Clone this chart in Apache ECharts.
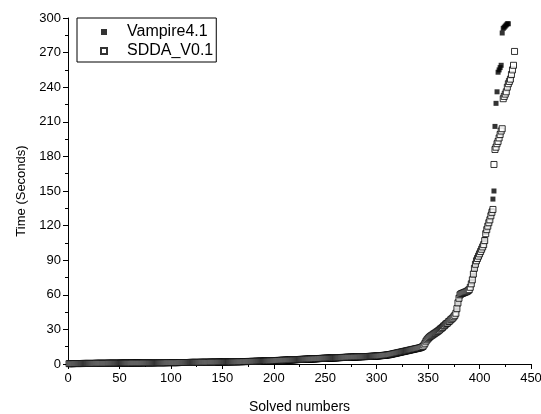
<!DOCTYPE html>
<html>
<head>
<meta charset="utf-8">
<script src="https://cdn.jsdelivr.net/npm/echarts@6/dist/echarts.min.js"></script>
<style>html,body{margin:0;padding:0;background:#fff;}#c{width:541px;height:414px;}</style>
</head>
<body>
<div id="c"></div>
<script>
// Sorted solving times (seconds); the solved number is the 1-based position in each list.
const vampireName = 'Vampire4.1';
const sddaName = 'SDDA_V0.1';
const vampireTimes = [
0.2,0.2,0.2,0.3,0.3,0.3,0.3,0.3,0.3,0.3,
0.3,0.3,0.3,0.4,0.4,0.4,0.4,0.4,0.4,0.4,
0.4,0.4,0.4,0.4,0.4,0.5,0.5,0.5,0.5,0.5,
0.5,0.5,0.5,0.5,0.5,0.5,0.5,0.5,0.5,0.5,
0.5,0.6,0.6,0.6,0.6,0.6,0.6,0.6,0.6,0.6,
0.6,0.6,0.6,0.6,0.7,0.7,0.7,0.7,0.7,0.7,
0.7,0.7,0.7,0.7,0.7,0.7,0.7,0.8,0.8,0.8,
0.8,0.8,0.8,0.8,0.8,0.8,0.8,0.8,0.8,0.8,
0.8,0.9,0.9,0.9,0.9,0.9,0.9,0.9,0.9,0.9,
0.9,0.9,0.9,1.0,1.0,1.0,1.0,1.0,1.0,1.0,
1.0,1.0,1.0,1.0,1.0,1.0,1.1,1.1,1.1,1.1,
1.1,1.1,1.1,1.1,1.1,1.1,1.1,1.1,1.2,1.2,
1.2,1.2,1.2,1.2,1.2,1.2,1.2,1.2,1.2,1.2,
1.3,1.3,1.3,1.3,1.3,1.3,1.3,1.3,1.3,1.3,
1.4,1.4,1.4,1.4,1.4,1.4,1.4,1.4,1.4,1.5,
1.5,1.5,1.5,1.5,1.5,1.5,1.5,1.6,1.6,1.6,
1.6,1.6,1.6,1.6,1.6,1.7,1.7,1.7,1.7,1.7,
1.7,1.7,1.8,1.8,1.8,1.8,1.8,1.8,1.9,1.9,
1.9,1.9,1.9,1.9,2.0,2.0,2.0,2.0,2.0,2.1,
2.1,2.1,2.1,2.1,2.2,2.2,2.2,2.2,2.3,2.3,
2.3,2.3,2.4,2.4,2.4,2.5,2.5,2.5,2.6,2.6,
2.6,2.7,2.7,2.7,2.8,2.8,2.8,2.9,2.9,3.0,
3.0,3.0,3.1,3.1,3.1,3.2,3.2,3.3,3.3,3.3,
3.4,3.4,3.4,3.5,3.5,3.6,3.6,3.6,3.7,3.7,
3.8,3.8,3.8,3.9,3.9,4.0,4.0,4.0,4.1,4.1,
4.2,4.2,4.3,4.3,4.3,4.4,4.4,4.5,4.5,4.6,
4.6,4.7,4.7,4.8,4.8,4.9,4.9,5.0,5.0,5.0,
5.1,5.1,5.2,5.2,5.2,5.3,5.3,5.4,5.4,5.4,
5.5,5.5,5.5,5.6,5.6,5.7,5.7,5.7,5.8,5.8,
5.9,5.9,6.0,6.0,6.0,6.1,6.1,6.2,6.2,6.3,
6.3,6.4,6.5,6.6,6.7,6.8,6.9,7.0,7.1,7.2,
7.3,7.4,7.6,7.8,8.0,8.2,8.4,8.6,8.8,9.0,
9.2,9.4,9.6,9.8,10.0,10.2,10.4,10.6,10.8,11.0,
11.2,11.4,11.6,11.8,12.0,12.2,12.4,12.6,12.8,13.0,
13.3,13.6,14.0,14.5,15.0,
17,19,20.5,21.5,22.5,23.2,24,24.6,25.2,25.8,26.4,27,27.6,28.2,28.8,29.5,
30,31.2,31.9,32.4,33.6,34.1,35.3,35.9,36.4,37.6,38.1,39.2,40.1,40.8,41.9,43.5,
47,52,56,59,
60,60.5,61,61.3,61.6,62,62.4,62.8,63.5,
66,69,72,77,82,86,89,91,93,95,
97,99,101,103,108,114,117,120,123,126,
130,133,143,150,
206,226,236,
253,255,257,259,
287,
291,292,293,294,295,295
];
const sddaTimes = [
0.3,0.3,0.3,0.3,0.3,0.4,0.4,0.4,0.4,0.4,
0.4,0.4,0.4,0.4,0.5,0.5,0.5,0.5,0.5,0.5,
0.5,0.5,0.5,0.5,0.5,0.5,0.6,0.6,0.6,0.6,
0.6,0.6,0.6,0.6,0.6,0.6,0.6,0.6,0.7,0.7,
0.7,0.7,0.7,0.7,0.7,0.7,0.7,0.7,0.7,0.7,
0.8,0.8,0.8,0.8,0.8,0.8,0.8,0.8,0.8,0.8,
0.8,0.9,0.9,0.9,0.9,0.9,0.9,0.9,0.9,0.9,
0.9,0.9,1.0,1.0,1.0,1.0,1.0,1.0,1.0,1.0,
1.0,1.0,1.0,1.0,1.1,1.1,1.1,1.1,1.1,1.1,
1.1,1.1,1.1,1.1,1.1,1.2,1.2,1.2,1.2,1.2,
1.2,1.2,1.2,1.2,1.2,1.2,1.2,1.3,1.3,1.3,
1.3,1.3,1.3,1.3,1.3,1.3,1.3,1.3,1.4,1.4,
1.4,1.4,1.4,1.4,1.4,1.4,1.4,1.4,1.5,1.5,
1.5,1.5,1.5,1.5,1.5,1.5,1.5,1.6,1.6,1.6,
1.6,1.6,1.6,1.6,1.6,1.7,1.7,1.7,1.7,1.7,
1.7,1.7,1.8,1.8,1.8,1.8,1.8,1.8,1.9,1.9,
1.9,1.9,1.9,1.9,2.0,2.0,2.0,2.0,2.0,2.1,
2.1,2.1,2.1,2.1,2.2,2.2,2.2,2.2,2.3,2.3,
2.3,2.3,2.4,2.4,2.4,2.5,2.5,2.5,2.5,2.6,
2.6,2.6,2.7,2.7,2.7,2.8,2.8,2.8,2.9,2.9,
2.9,3.0,3.0,3.1,3.1,3.1,3.2,3.2,3.3,3.3,
3.3,3.4,3.4,3.5,3.5,3.5,3.6,3.6,3.7,3.7,
3.7,3.8,3.8,3.9,3.9,4.0,4.0,4.0,4.1,4.1,
4.2,4.2,4.3,4.3,4.3,4.4,4.4,4.5,4.5,4.6,
4.6,4.6,4.7,4.7,4.8,4.8,4.9,4.9,5.0,5.0,
5.0,5.1,5.1,5.2,5.2,5.2,5.3,5.3,5.4,5.4,
5.4,5.5,5.5,5.5,5.6,5.6,5.7,5.7,5.7,5.8,
5.8,5.9,5.9,5.9,6.0,6.0,6.0,6.1,6.1,6.1,
6.2,6.2,6.2,6.3,6.3,6.3,6.4,6.4,6.4,6.5,
6.5,6.5,6.6,6.6,6.7,6.7,6.8,6.8,6.9,6.9,
7.0,7.0,7.1,7.2,7.3,7.4,7.5,7.6,7.7,7.8,
7.9,8.0,8.2,8.4,8.6,8.8,9.0,9.2,9.4,9.6,
9.8,10.0,10.2,10.4,10.6,10.8,11.0,11.2,11.4,11.6,
11.8,12.0,12.2,12.4,12.6,12.8,13.0,13.2,13.4,13.6,
13.8,14.0,14.3,14.7,15.2,
16.5,18,19.8,21,22,23,23.8,24.5,25,25.7,26.3,26.9,27.5,28.1,28.8,29.5,
30.4,31,31.7,32.8,33.3,34.4,35.1,35.6,36.8,37.3,38.4,39.1,39.9,41,42.2,44,
48,53,57,60,
60.8,61.2,61.5,61.9,62.3,62.6,63,63.8,64.5,
66.5,69.5,73,78,83,86.5,89.5,91.5,93.5,95.5,
97.5,99.5,101.5,103.5,107,113,116.5,119.5,122.5,125,
128.5,131.5,134,
173,186,188,191,193,196,199,202,204,
230,232,234,236,240,243,245,247,251,255,259,271
];
const xTicks = { min: 0, max: 450, interval: 50 };
const yTicks = { min: 0, max: 300, interval: 30 };

const toPoints = arr => arr.map((t, i) => [i + 1, t]);

const font = 'Arial, "Liberation Sans", sans-serif';
const chart = echarts.init(document.getElementById('c'), null, { renderer: 'canvas' });
chart.setOption({
  animation: false,
  backgroundColor: '#fff',
  grid: { left: 68, right: 10, top: 18, bottom: 50, containLabel: false, outerBoundsMode: 'none' },
  legend: {
    left: 77, top: 18, orient: 'vertical',
    borderColor: '#000', borderWidth: 1, borderRadius: 0,
    padding: [5, 3, 2, 23], itemGap: 1,
    itemWidth: 6, itemHeight: 6,
    textStyle: { fontFamily: font, fontSize: 16, color: '#000', padding: [0, 0, 0, 15], lineHeight: 18 },
    data: [vampireName, sddaName]
  },
  xAxis: {
    type: 'value', min: xTicks.min, max: xTicks.max, interval: xTicks.interval,
    name: 'Solved numbers', nameLocation: 'middle', nameGap: 36,
    nameTextStyle: { fontFamily: font, fontSize: 14, color: '#000' },
    axisLine: { lineStyle: { color: '#000', width: 1 } },
    axisTick: { show: true, length: 5, lineStyle: { color: '#000' } },
    minorTick: { show: true, splitNumber: 2, length: 3, lineStyle: { color: '#000' } },
    splitLine: { show: false },
    axisLabel: { fontFamily: font, fontSize: 13, color: '#000', margin: 8, showMaxLabel: true, hideOverlap: false }
  },
  yAxis: {
    type: 'value', min: yTicks.min, max: yTicks.max, interval: yTicks.interval,
    name: 'Time (Seconds)', nameLocation: 'middle', nameGap: 40, nameRotate: 90,
    nameTextStyle: { fontFamily: font, fontSize: 13, color: '#000' },
    axisLine: { show: true, lineStyle: { color: '#000', width: 1 } },
    axisTick: { show: true, length: 5, lineStyle: { color: '#000' } },
    minorTick: { show: true, splitNumber: 2, length: 3, lineStyle: { color: '#000' } },
    splitLine: { show: false },
    axisLabel: { fontFamily: font, fontSize: 13, color: '#000', margin: 7 }
  },
  series: [
    {
      name: vampireName, type: 'scatter', symbol: 'rect', symbolSize: 5,
      itemStyle: { color: '#000' },
      data: toPoints(vampireTimes), z: 2
    },
    {
      name: sddaName, type: 'scatter', symbol: 'rect', symbolSize: 6,
      itemStyle: { color: '#fff', borderColor: '#000', borderWidth: 1 },
      data: toPoints(sddaTimes), z: 3
    }
  ]
});
</script>
</body>
</html>
